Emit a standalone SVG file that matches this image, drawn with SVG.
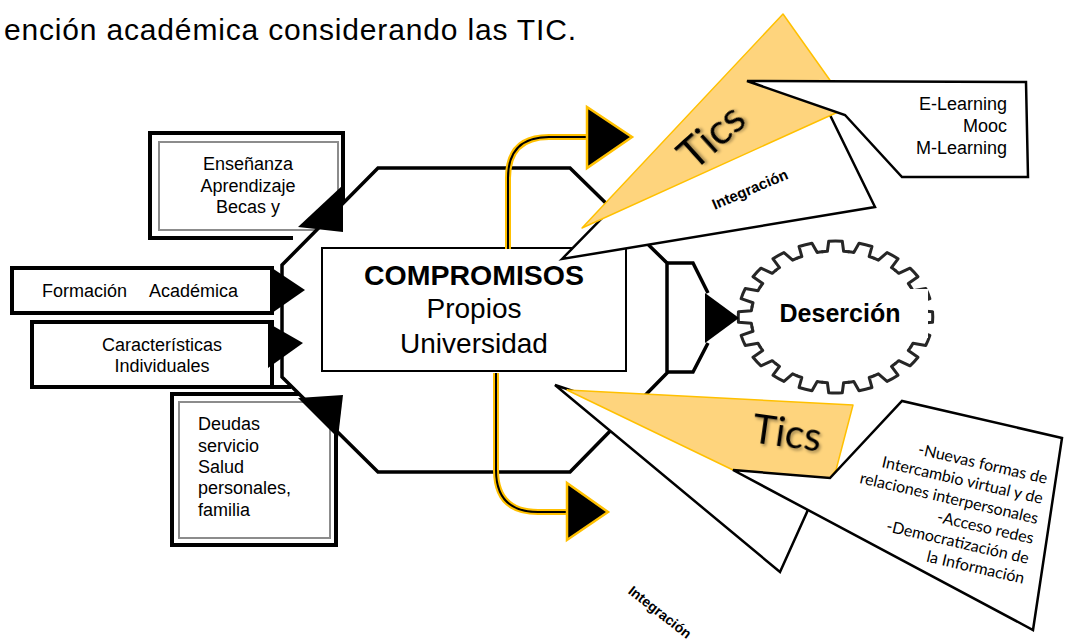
<svg xmlns="http://www.w3.org/2000/svg" width="1074" height="641" viewBox="0 0 1074 641">
<defs>
<style>
.t{font-family:"Liberation Sans",Arial,sans-serif;fill:#000}
.l{font-family:"Liberation Sans",Arial,sans-serif;font-size:18px;fill:#000}
.c{font-family:Lato,"Open Sans",sans-serif;fill:#000}
.thick{fill:#fff;stroke:#000;stroke-width:4}
.thickn{fill:none;stroke:#000;stroke-width:4}
.gray{fill:none;stroke:#8c8c8c;stroke-width:2}
.call{fill:#fff;stroke:#000;stroke-width:2.5;stroke-linejoin:miter}
.yel{fill:#FED47D;stroke:#FFC000;stroke-width:1.5;stroke-linejoin:round}
.tri{fill:#000}
.ah{fill:#000;stroke:#FFC000;stroke-width:2.5}
.yl{fill:none;stroke:#FFC000;stroke-width:6}
.bl{fill:none;stroke:#000;stroke-width:2}
.tooth{fill:none;stroke:#262626;stroke-width:3;vector-effect:non-scaling-stroke;stroke-linecap:round;stroke-linejoin:round}
</style>
<filter id="sh" x="-20%" y="-20%" width="140%" height="140%"><feDropShadow dx="2" dy="2" stdDeviation="1.5" flood-color="#000" flood-opacity="0.35"/></filter>
<path id="tooth" class="tooth" d="M65.19,-10.32 A66,66 0 0 1 65.70,-6.33 L75.81,-5.30 A76,76 0 0 1 75.81,5.30 L65.70,6.33 A66,66 0 0 1 65.19,10.32"/>
</defs>
<rect width="1074" height="641" fill="#fff"/>
<text id="title" class="t" x="4" y="40" font-size="30" textLength="572" lengthAdjust="spacing">ención académica considerando las TIC.</text>

<g id="node-ensenanza">
<path class="thickn" d="M293,238 H150 V133 H343 V232"/>
<rect class="gray" x="159" y="142" width="179" height="88"/>
<text class="l" text-anchor="middle"><tspan x="248" y="170">Enseñanza</tspan><tspan x="248" y="192">Aprendizaje</tspan><tspan x="248" y="213">Becas y</tspan></text>
</g>
<g id="node-formacion">
<rect class="thick" x="12" y="268" width="260" height="45"/>
<text class="l" y="297"><tspan x="42">Formación</tspan><tspan x="149">Académica</tspan></text>
</g>
<g id="node-caracteristicas">
<rect class="thick" x="32" y="322" width="240" height="65"/>
<path class="thickn" d="M272,387 H291"/>
<text class="l" text-anchor="middle"><tspan x="162" y="351">Características</tspan><tspan x="162" y="372">Individuales</tspan></text>
</g>
<g id="node-deudas">
<rect class="thick" x="172" y="394" width="164" height="151"/>
<rect class="gray" x="179" y="402" width="151" height="136"/>
<text class="l"><tspan x="198" y="430">Deudas</tspan><tspan x="198" y="452">servicio</tspan><tspan x="198" y="473">Salud</tspan><tspan x="198" y="494">personales,</tspan><tspan x="198" y="516">familia</tspan></text>
</g>

<g id="node-octagon">
<path d="M378,168 H570 L667,263 V373 L570,472 H378 L282,377 V265 Z" fill="#fff" stroke="#000" stroke-width="3.5" stroke-linejoin="miter"/>
</g>
<g id="node-compromisos">
<rect x="322" y="248" width="304" height="123" fill="#fff" stroke="#000" stroke-width="2"/>
<text class="t" x="474" y="285" text-anchor="middle" font-size="28.5" font-weight="bold">COMPROMISOS</text>
<text class="t" x="474" y="318" text-anchor="middle" font-size="28">Propios</text>
<text class="t" x="474" y="353" text-anchor="middle" font-size="28">Universidad</text>
</g>

<g id="node-tics-top">
<polygon class="call" points="562,259 700,118 830,115 875,207"/>
<text class="t" transform="translate(750,189.5) rotate(-23)" x="0" y="5" text-anchor="middle" font-size="15" font-weight="bold">Integración</text>
<polygon class="yel" points="783,14 849,107 582,228"/>
<text class="c" transform="translate(712,137) rotate(-42)" x="0" y="14" text-anchor="middle" font-size="42" filter="url(#sh)">Tics</text>
</g>
<g id="node-elearning">
<polygon class="call" points="747,81 1026,82 1028,177 902,177 845,115"/>
<text class="l" text-anchor="end"><tspan x="1007" y="110">E-Learning</tspan><tspan x="1007" y="132">Mooc</tspan><tspan x="1007" y="154">M-Learning</tspan></text>
</g>

<g id="node-tics-bottom">
<polygon class="call" points="555,385 780,572 807,512 820,470 600,400"/>
<polygon class="yel" points="567,390 853,405 836,470 830,478 733,470"/>
<text class="c" transform="translate(787,433) rotate(8)" x="0" y="14" text-anchor="middle" font-size="40" filter="url(#sh)">Tics</text>
<text class="t" transform="translate(660,612) rotate(38)" x="0" y="5" text-anchor="middle" font-size="14" font-weight="bold">Integración</text>
</g>
<g id="node-nuevas">
<polygon class="call" points="733,470 830,478 902,401 1062,438 1033,630"/>
<g class="c" transform="translate(1046,484) rotate(13)" font-size="16" text-anchor="end">
<text x="0" y="0">-Nuevas formas de</text>
<text x="0" y="20.5">Intercambio virtual y de</text>
<text x="0" y="41">relaciones interpersonales</text>
<text x="0" y="61.5">-Acceso redes</text>
<text x="0" y="82">-Democratización de</text>
<text x="0" y="102.5">la Información</text>
</g>
</g>

<g id="node-desercion">
<g transform="translate(835.5,317) scale(1.28,1)">
<circle r="70" fill="#fff"/>
<use href="#tooth"/>
<use href="#tooth" transform="rotate(18)"/>
<use href="#tooth" transform="rotate(36)"/>
<use href="#tooth" transform="rotate(54)"/>
<use href="#tooth" transform="rotate(72)"/>
<use href="#tooth" transform="rotate(90)"/>
<use href="#tooth" transform="rotate(108)"/>
<use href="#tooth" transform="rotate(126)"/>
<use href="#tooth" transform="rotate(144)"/>
<use href="#tooth" transform="rotate(162)"/>
<use href="#tooth" transform="rotate(180)"/>
<use href="#tooth" transform="rotate(198)"/>
<use href="#tooth" transform="rotate(216)"/>
<use href="#tooth" transform="rotate(234)"/>
<use href="#tooth" transform="rotate(252)"/>
<use href="#tooth" transform="rotate(270)"/>
<use href="#tooth" transform="rotate(288)"/>
<use href="#tooth" transform="rotate(306)"/>
<use href="#tooth" transform="rotate(324)"/>
<use href="#tooth" transform="rotate(342)"/>
</g>
<rect x="765" y="289" width="163" height="49" fill="#fff"/>
<text class="t" x="840" y="322" text-anchor="middle" font-size="25" font-weight="bold">Deserción</text>
</g>

<g id="connectors">
<polygon class="tri" points="298,227 343,185 343,232"/>
<polygon class="tri" points="272,268 305,290 272,313"/>
<polygon class="tri" points="268,323 303,343 268,368"/>
<polygon class="tri" points="298,398 343,395 338,438"/>
<path class="yl" d="M508,249 V178 Q508,137 549,137 H590"/>
<path class="bl" d="M508,249 V178 Q508,137 549,137 H590"/>
<polygon class="ah" points="587,107 632,137 587,168"/>
<path class="yl" d="M496,373 V470 Q496,512 538,512 H570"/>
<path class="bl" d="M496,373 V470 Q496,512 538,512 H570"/>
<polygon class="ah" points="567,483 608,512 567,540"/>
<path d="M667,263 H693 L708,293 M708,343 L693,372 H667" fill="none" stroke="#000" stroke-width="3.5"/>
<polygon class="tri" points="705,293 739,318 705,343"/>
</g>
</svg>
